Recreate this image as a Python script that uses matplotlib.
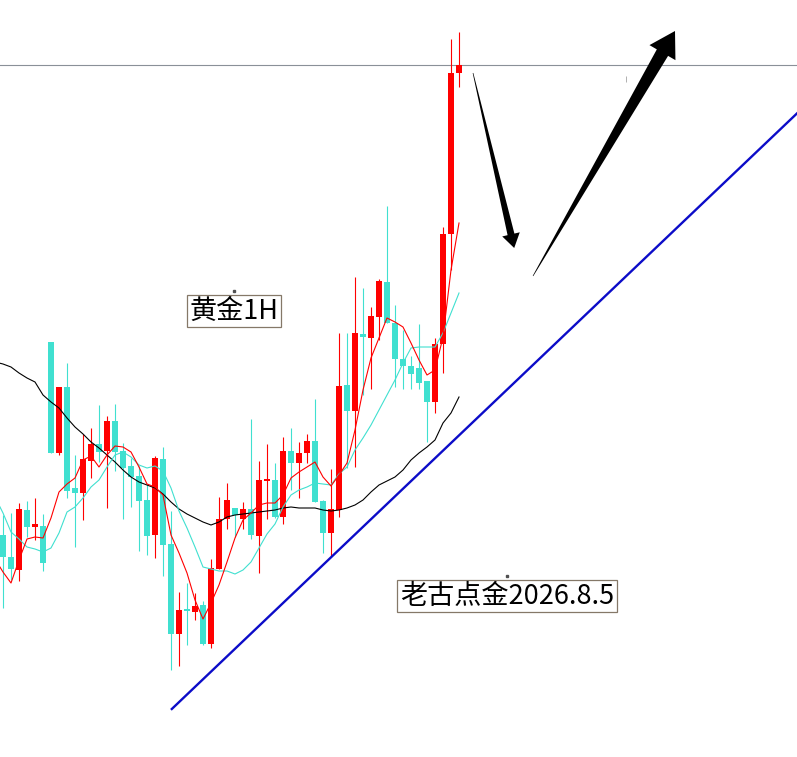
import numpy as np
import matplotlib
matplotlib.use('Agg')
import matplotlib.pyplot as plt
from matplotlib.patches import Polygon
from matplotlib.transforms import IdentityTransform

plt.rcParams['font.family'] = ['Noto Sans CJK SC', 'DejaVu Sans']

TOP = 757

open_rows = [535, 557, 570, 510, 527, 526, 342, 453, 387, 488,
             493, 461, 444, 451, 421, 451, 466, 476, 500, 535,
             459, 544, 634, 609, 612, 605, 644, 569, 519, 508,
             519, 509, 536, 481, 480, 517, 451, 463, 453, 441,
             501, 533, 510, 385, 411, 334, 338, 317, 282, 323,
             359, 366, 368, 381, 402, 344, 234, 73]
high_rows = [515, 513, 503, 501, 498, 514, 342, 387, 363, 455,
             434, 428, 405, 416, 404, 443, 458, 466, 484, 456,
             447, 511, 592, 583, 593, 601, 559, 497, 483, 508,
             502, 419, 461, 444, 463, 437, 428, 442, 434, 399,
             500, 469, 333, 333, 277, 288, 307, 279, 206, 305,
             330, 356, 324, 381, 338, 227, 39, 32]
low_rows = [608, 580, 581, 537, 540, 571, 453, 455, 498, 547,
            520, 478, 462, 508, 471, 519, 507, 551, 555, 558,
            576, 670, 666, 645, 620, 645, 648, 569, 529, 537,
            529, 539, 573, 519, 518, 524, 490, 498, 463, 502,
            553, 556, 517, 468, 467, 395, 389, 340, 323, 387,
            389, 389, 389, 442, 413, 373, 270, 87]
close_rows = [557, 569, 509, 527, 524, 563, 453, 387, 491, 493,
              459, 444, 452, 421, 452, 468, 477, 501, 536, 458,
              545, 634, 610, 611, 606, 644, 568, 519, 500, 515,
              509, 535, 480, 479, 517, 451, 463, 453, 441, 502,
              533, 509, 386, 411, 333, 337, 316, 281, 323, 359,
              366, 374, 383, 402, 344, 234, 73, 65]

# moving averages, bar -1 .. 57
ma_fast_rows = [559, 572, 583, 560, 539, 537, 538, 518, 492, 484,
                478, 460, 456, 467, 455, 446, 447, 452, 467, 484,
                487, 495, 535, 553, 573, 600, 619, 603, 585, 562,
                538, 520, 513, 505, 503, 503, 495, 478, 472, 467,
                462, 477, 486, 475, 463, 430, 390, 358, 338, 318,
                322, 327, 343, 360, 375, 370, 337, 270, 223]
ma_mid_rows = [497, 513, 532, 539, 547, 549, 552, 548, 533, 512,
               507, 498, 487, 480, 467, 455, 452, 457, 465, 468,
               466, 471, 488, 511, 528, 547, 567, 569, 571, 571,
               574, 570, 562, 548, 534, 524, 507, 495, 490, 487,
               483, 484, 485, 474, 467, 450, 438, 425, 410, 395,
               380, 363, 348, 347, 347, 347, 333, 313, 293]
ma_slow_rows = [362, 364, 367, 373, 378, 382, 395, 402, 408, 418,
                427, 434, 442, 448, 455, 462, 470, 477, 482, 485,
                488, 494, 502, 509, 514, 518, 522, 525, 522, 517,
                515, 514, 513, 512, 511, 510, 508, 507, 508, 508,
                508, 510, 511, 510, 508, 505, 500, 492, 485, 481,
                477, 470, 460, 453, 447, 440, 423, 413, 397]

# trend line and arrows (bar index, row)
trend_x = [21.1, 99.3]
trend_rows = [709, 113]
arrow_down = [(58.75, 73), (63.9, 248)]
arrow_up = [(66.25, 276), (84.0, 31)]

labels = ['黄金1H', '老古点金2026.8.5']
label_x = [28.9, 63.0]
label_rows = [311, 596]

UP = '#FF0000'
DOWN = '#40E0D0'


def price(rows):
    return TOP - np.asarray(rows, dtype=float)


def tapered_arrow(ax, start, end, shaft_w, head_w, head_len):
    """black arrow, thin at the tail and wide near the head (sizes in px)"""
    p0 = ax.transData.transform((start[0], TOP - start[1]))
    p1 = ax.transData.transform((end[0], TOP - end[1]))
    u = (p1 - p0) / np.hypot(*(p1 - p0))
    n = np.array([-u[1], u[0]])
    base = p1 - u * head_len
    pts = [p0 + n * 0.3, base + n * shaft_w / 2, base + n * head_w / 2, p1,
           base - n * head_w / 2, base - n * shaft_w / 2, p0 - n * 0.3]
    ax.add_patch(Polygon(pts, closed=True, transform=IdentityTransform(),
                         fc='black', ec='none', zorder=10))


def main():
    o, h, l, c = price(open_rows), price(high_rows), price(low_rows), price(close_rows)
    x = np.arange(len(o))
    colors = [UP if cc > oo else DOWN for oo, cc in zip(o, c)]

    fig = plt.figure(figsize=(7.97, 7.57), dpi=100)
    ax = fig.add_axes([0, 0, 1, 1])
    ax.set_xlim(-0.375, 99.25)
    ax.set_ylim(0, TOP)
    ax.axis('off')

    # current price line
    ax.axhline(c[-1], color='#8a9098', lw=0.8, zorder=0)
    ax.vlines(77.9, price(82), price(76), color='#b0b0b0', lw=0.7, zorder=0)

    ax.vlines(x, l, h, colors=colors, lw=0.8, zorder=2)
    body = np.maximum(np.abs(c - o), 1.0)
    ax.bar(x, body, bottom=np.minimum(o, c), width=0.7, color=colors,
           linewidth=0, zorder=3)

    xm = np.arange(-1, len(o))
    ax.plot(xm, price(ma_slow_rows), color='black', lw=0.8, zorder=4)
    ax.plot(xm, price(ma_mid_rows), color=DOWN, lw=0.8, zorder=4)
    ax.plot(xm, price(ma_fast_rows), color=UP, lw=0.8, zorder=5)

    ax.plot(trend_x, price(trend_rows), color='#0c0cc8', lw=1.7, zorder=6)

    for txt, tx, ty in zip(labels, label_x, label_rows):
        ax.text(tx, price(ty), txt, fontsize=19.5, color='black',
                ha='center', va='center', zorder=8,
                bbox=dict(boxstyle='square,pad=0.1', fc='white',
                          ec='#857868', lw=0.9))
        ax.plot(tx, price(ty) + 20, marker='s', ms=1.5, color='#505050', zorder=8)

    tapered_arrow(ax, arrow_down[0], arrow_down[1], 7, 18, 14)
    tapered_arrow(ax, arrow_up[0], arrow_up[1], 13, 30, 25)

    fig.savefig('out.png', dpi=100, facecolor='white')


if __name__ == "__main__":
    main()
